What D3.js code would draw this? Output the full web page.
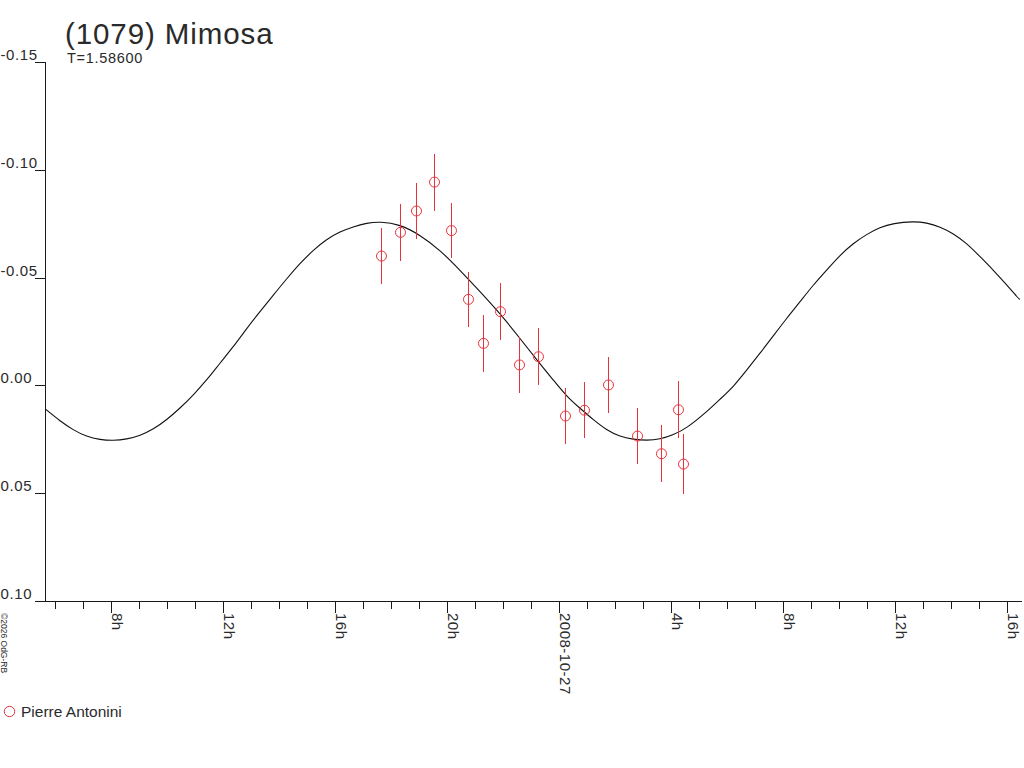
<!DOCTYPE html>
<html>
<head>
<meta charset="utf-8">
<script src="https://cdn.jsdelivr.net/npm/d3@7"></script>
<style>
  html, body { margin: 0; padding: 0; background: #fff; }
  svg { display: block; font-family: "Liberation Sans", Arial, sans-serif; }
</style>
</head>
<body>
<svg id="chart" width="1024" height="768"></svg>
<script>
// ---------------- DATA ----------------
const title = "(1079) Mimosa";
const subtitle = "T=1.58600";
const observer = "Pierre Antonini";
const copyright = "\u00A92026 OdG-RB";

// Observation times (UT) and magnitudes with 1-sigma errors
const obsTimes = [
  "2008-10-26T17:39Z", "2008-10-26T18:19Z", "2008-10-26T18:54Z", "2008-10-26T19:33Z",
  "2008-10-26T20:09Z", "2008-10-26T20:44Z", "2008-10-26T21:18Z", "2008-10-26T21:53Z",
  "2008-10-26T22:34Z", "2008-10-26T23:16Z", "2008-10-27T00:13Z", "2008-10-27T00:54Z",
  "2008-10-27T01:44Z", "2008-10-27T02:47Z", "2008-10-27T03:39Z", "2008-10-27T04:14Z",
  "2008-10-27T04:26Z"
];
const obsMag = [
  -0.0600, -0.0710, -0.0809, -0.0943, -0.0718, -0.0399, -0.0195, -0.0342,
  -0.0095, -0.0133, 0.0142, 0.0115, -0.0002, 0.0235, 0.0317, 0.0113, 0.0365
];
const obsErr = [
  0.0130, 0.0131, 0.0130, 0.0132, 0.0128, 0.0129, 0.0131, 0.0132,
  0.0130, 0.0133, 0.0130, 0.0131, 0.0131, 0.0131, 0.0133, 0.0133, 0.0141
];

// Fitted lightcurve: hours relative to 2008-10-27 00:00 UT
const curveHours = [
  -18.35, -17.82, -17.35, -16.87, -16.39, -15.92, -15.44, -14.96, -14.49, -14.01,
  -13.54, -13.06, -12.58, -12.11, -11.63, -11.15, -10.68, -10.20, -9.73, -9.25,
  -8.77, -8.30, -7.82, -7.35, -6.87, -6.39, -5.68, -4.96, -4.25, -3.54,
  -2.82, -2.11, -1.39, -0.68, -0.20, 0.28, 0.75, 1.23, 1.70, 2.18,
  2.65, 3.13, 3.61, 4.08, 4.56, 5.28, 5.75, 6.23, 6.70, 7.18,
  7.65, 8.13, 8.61, 9.08, 9.56, 10.04, 10.51, 10.99, 11.46, 11.94,
  12.65, 13.13, 13.61, 14.08, 14.56, 15.04, 15.51, 15.99, 16.40, 16.46
];
const curveMag = [
  0.0109, 0.0165, 0.0207, 0.0238, 0.0252, 0.0256, 0.0250, 0.0233, 0.0204, 0.0160,
  0.0106, 0.0045, -0.0025, -0.0103, -0.0179, -0.0265, -0.0342, -0.0419, -0.0494, -0.0566,
  -0.0628, -0.0678, -0.0713, -0.0736, -0.0753, -0.0760, -0.0747, -0.0698, -0.0628, -0.0535,
  -0.0435, -0.0334, -0.0218, -0.0099, -0.0025, 0.0052, 0.0106, 0.0160, 0.0207, 0.0238,
  0.0250, 0.0256, 0.0250, 0.0230, 0.0199, 0.0122, 0.0064, 0.0006, -0.0071, -0.0149,
  -0.0229, -0.0311, -0.0388, -0.0466, -0.0535, -0.0605, -0.0659, -0.0701, -0.0733, -0.0752,
  -0.0761, -0.0755, -0.0736, -0.0705, -0.0659, -0.0597, -0.0535, -0.0466, -0.0404, -0.0399
];

// Axes
const xDomain = ["2008-10-26T05:38:36Z", "2008-10-27T16:27:50Z"];
const xMajorTicks = [
  "2008-10-26T08:00Z", "2008-10-26T12:00Z", "2008-10-26T16:00Z", "2008-10-26T20:00Z",
  "2008-10-27T00:00Z", "2008-10-27T04:00Z", "2008-10-27T08:00Z", "2008-10-27T12:00Z",
  "2008-10-27T16:00Z"
];
const xMajorLabels = ["8h", "12h", "16h", "20h", "2008-10-27", "4h", "8h", "12h", "16h"];
const yTicks = [-0.15, -0.10, -0.05, 0.00, 0.05, 0.10];
const yTickLabels = ["-0.15", "-0.10", "-0.05", "0.00", "0.05", "0.10"];

// ---------------- DRAW ----------------
const svg = d3.select("#chart");
const textColor = "#2a2a2a";
const axisColor = "#1a1a1a";
const red = "#e8323c";

const refDate = new Date("2008-10-27T00:00:00Z");
const x = d3.scaleUtc().domain(xDomain.map(d => new Date(d))).range([45, 1020]);
const y = d3.scaleLinear().domain([-0.15, 0.10]).range([62, 601]);

// Title
svg.append("text").attr("x", 65).attr("y", 44)
  .attr("font-size", 29.5).attr("letter-spacing", 0.9).attr("fill", textColor).text(title);
svg.append("text").attr("x", 67).attr("y", 63)
  .attr("font-size", 14.5).attr("letter-spacing", 0.7).attr("fill", textColor).text(subtitle);

// Y axis
const gy = svg.append("g").attr("shape-rendering", "crispEdges");
gy.append("line").attr("x1", 45.5).attr("x2", 45.5).attr("y1", y(-0.15)).attr("y2", y(0.10))
  .attr("stroke", axisColor);
yTicks.forEach((v, i) => {
  const yy = Math.round(y(v)) + 0.5;
  gy.append("line").attr("x1", 35).attr("x2", 46).attr("y1", yy).attr("y2", yy).attr("stroke", axisColor);
  svg.append("text").attr("x", 0.5).attr("y", Math.round(y(v)) - 2)
    .attr("font-size", 15).attr("letter-spacing", 0.6).attr("fill", textColor).text(yTickLabels[i]);
});

// X axis
const gx = svg.append("g").attr("shape-rendering", "crispEdges");
gx.append("line").attr("x1", 35).attr("x2", 1022).attr("y1", 601.5).attr("y2", 601.5).attr("stroke", axisColor);
x.ticks(d3.utcHour.every(1)).forEach(t => {
  const xx = Math.round(x(t)) + 0.5;
  gx.append("line").attr("x1", xx).attr("x2", xx).attr("y1", 601).attr("y2", 609).attr("stroke", axisColor);
});
xMajorTicks.forEach((s, i) => {
  const t = new Date(s);
  const xx = Math.round(x(t)) + 0.5;
  gx.append("line").attr("x1", xx).attr("x2", xx).attr("y1", 601).attr("y2", 613).attr("stroke", axisColor);
  svg.append("text")
    .attr("transform", `translate(${Math.round(x(t)) + 0.5},613) rotate(90)`)
    .attr("font-size", 15).attr("letter-spacing", 0.5).attr("fill", textColor)
    .text(xMajorLabels[i]);
});

// Fitted curve
const curvePts = curveHours.map((h, i) => ({ t: new Date(refDate.getTime() + h * 3600e3), m: curveMag[i] }));
svg.append("path")
  .datum(curvePts)
  .attr("fill", "none").attr("stroke", "#111").attr("stroke-width", 1.1)
  .attr("d", d3.line().x(d => x(d.t)).y(d => y(d.m)).curve(d3.curveBasis));

// Observations
const obs = obsTimes.map((s, i) => ({ t: new Date(s), m: obsMag[i], e: obsErr[i] }));
svg.append("g").attr("shape-rendering", "crispEdges").selectAll("line").data(obs).join("line")
  .attr("x1", d => Math.round(x(d.t)) + 0.5).attr("x2", d => Math.round(x(d.t)) + 0.5)
  .attr("y1", d => y(d.m - d.e)).attr("y2", d => y(d.m + d.e))
  .attr("stroke", red).attr("stroke-width", 1);
svg.append("g").selectAll("circle").data(obs).join("circle")
  .attr("cx", d => Math.round(x(d.t)) + 0.5).attr("cy", d => y(d.m)).attr("r", 5)
  .attr("fill", "none").attr("stroke", red).attr("stroke-width", 1);

// Legend
svg.append("circle").attr("cx", 9.5).attr("cy", 711.5).attr("r", 5.2)
  .attr("fill", "none").attr("stroke", red);
svg.append("text").attr("x", 21).attr("y", 717)
  .attr("font-size", 15.5).attr("fill", textColor).text(observer);

// Copyright (vertical)
svg.append("text").attr("transform", "translate(0.5,613) rotate(90)")
  .attr("font-size", 8.5).attr("fill", textColor).text(copyright);
</script>
</body>
</html>
